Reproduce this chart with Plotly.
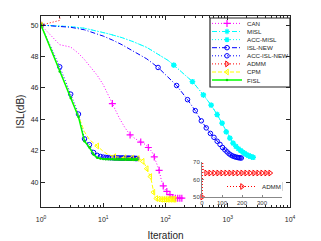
import plotly.graph_objects as go

# ---------------- data ----------------
can_iter = [1, 2, 3, 4, 5, 6, 8, 10, 14, 18, 22, 27, 33, 40, 47, 53, 60, 66, 72, 79,
            86, 92, 98, 105, 118, 131, 144, 157, 170, 183, 190]
can_isl = [50.0, 48.75, 48.6, 48.2, 47.8, 47.4, 46.8, 46.2, 45.0, 44.1, 43.5, 43.0, 42.75,
           42.55, 42.4, 42.2, 41.95, 41.6, 41.2, 40.75, 40.1, 39.75, 39.55, 39.4, 39.2,
           39.02, 38.97, 38.97, 38.97, 38.97, 38.97]

misl_iter = [1, 2, 3, 5, 8, 12, 20, 30, 50, 80, 110, 136, 271, 406, 541, 676, 811, 946,
             1081, 1216, 1351, 1486, 1621, 1756, 1891, 2026, 2161, 2296, 2431, 2566, 2700]
misl_isl = [50.0, 49.95, 49.9, 49.8, 49.62, 49.45, 49.2, 48.95, 48.58, 48.1, 47.75, 47.45,
            46.4, 45.55, 44.9, 44.3, 43.75, 43.2, 42.8, 42.48, 42.27, 42.12, 42.0, 41.9,
            41.81, 41.74, 41.68, 41.64, 41.6, 41.57, 41.55]

# ACC-MISL is hidden under MISL in the picture
acc_misl_iter = misl_iter
acc_misl_isl = misl_isl

isl_new_iter = [1, 2, 3, 5, 8, 10, 14, 20, 30, 50, 76, 110, 151, 226, 301, 376, 451, 526,
                601, 676, 751, 826, 901, 976, 1051, 1126, 1201, 1276, 1351, 1426, 1501,
                1576, 1651, 1700]
isl_new_isl = [50.0, 49.93, 49.86, 49.7, 49.45, 49.3, 49.05, 48.75, 48.35, 47.85, 47.3,
               46.7, 46.15, 45.25, 44.55, 43.9, 43.45, 43.1, 42.85, 42.6, 42.4, 42.2, 42.05,
               41.92, 41.8, 41.72, 41.66, 41.62, 41.59, 41.57, 41.55, 41.54, 41.53, 41.52]

acc_isl_new_iter = list(range(1, 36))
acc_isl_new_isl = [50.0, 47.34, 45.6, 44.33, 42.75, 42.38, 41.88, 41.7, 41.63, 41.59, 41.57,
                   41.56, 41.55, 41.55, 41.54, 41.54, 41.54, 41.53, 41.53, 41.53, 41.53,
                   41.52, 41.52, 41.52, 41.52, 41.52, 41.51, 41.51, 41.51, 41.51, 41.51,
                   41.51, 41.5, 41.5, 41.5]

admm_iter = [1, 2, 3, 4, 5, 6, 8, 10, 15, 21, 41, 61, 81, 101, 121, 141, 161, 181, 201,
             221, 241, 261, 281, 301, 321, 341]
admm_isl = [50.0, 50.3, 70.0, 68.0, 66.0, 65.0, 64.2, 63.9, 63.7, 63.7, 63.7, 63.7, 63.7,
            63.7, 63.7, 63.7, 63.7, 63.7, 63.7, 63.7, 63.7, 63.7, 63.7, 63.7, 63.7, 63.7]

cpm_iter = [1, 2, 3, 4, 5, 6, 8, 10, 12, 15, 22, 29, 36, 40, 43, 47, 50, 54, 57, 60, 62,
            64, 66, 68, 71, 78, 85, 92, 99, 106, 113, 120, 127, 134, 141]
cpm_isl = [50.0, 47.1, 45.5, 44.2, 43.2, 42.7, 42.3, 41.95, 41.75, 41.62, 41.55, 41.53,
           41.5, 41.45, 41.32, 41.1, 40.85, 40.55, 40.35, 40.0, 39.6, 39.35, 39.15, 39.02,
           38.95, 38.92, 38.9, 38.9, 38.9, 38.9, 38.9, 38.9, 38.9, 38.9, 38.9]

fisl_iter = list(range(1, 36))
fisl_isl = [50.0, 47.05, 45.35, 44.15, 42.6, 42.2, 41.75, 41.55, 41.5, 41.47, 41.46, 41.45,
            41.45, 41.45, 41.44, 41.44, 41.44, 41.44, 41.44, 41.44, 41.43, 41.43, 41.43,
            41.43, 41.43, 41.43, 41.43, 41.43, 41.43, 41.43, 41.43, 41.43, 41.43, 41.43,
            41.43]

x_tick_vals = [1, 10, 100, 1000, 10000]
x_tick_text = ["10<sup>0</sup>", "10<sup>1</sup>", "10<sup>2</sup>", "10<sup>3</sup>",
               "10<sup>4</sup>"]
y_tick_vals = [40, 42, 44, 46, 48, 50]
inset_x_ticks = [0, 100, 200, 300]
inset_y_ticks = [50, 60, 70]

# ---------------- styling ----------------
FONT = "Liberation Sans, Arial, sans-serif"
W, H = 321, 241
ML, MR, MT, MB = 41, 31, 16, 34
PW, PH = W - ML - MR, H - MT - MB


def px_x(p):
    return (p - ML) / PW


def px_y(p):
    return (H - MB - p) / PH


series = [
    ("CAN", can_iter, can_isl, 13, dict(color="#ff00ff", dash="1px,2px", width=1),
     dict(symbol="cross-thin-open", size=5, color="#ff00ff", line=dict(width=1.2))),
    ("MISL", misl_iter, misl_isl, 135, dict(color="#00ffff", dash="5px,2px,1px,2px", width=1),
     dict(symbol="asterisk-open", size=4.5, color="#00ffff", line=dict(width=1.2))),
    ("ACC-MISL", acc_misl_iter, acc_misl_isl, 135,
     dict(color="#00ffff", dash="1px,2px", width=1),
     dict(symbol="asterisk-open", size=4.5, color="#00ffff", line=dict(width=1.2))),
    ("ISL-NEW", isl_new_iter, isl_new_isl, 75,
     dict(color="#0000ff", dash="5px,2px,1px,2px", width=1),
     dict(symbol="circle-open", size=4.5, color="#0000ff", line=dict(width=1))),
    ("ACC-ISL-NEW", acc_isl_new_iter, acc_isl_new_isl, 1,
     dict(color="#0000ff", dash="1px,2px", width=1),
     dict(symbol="circle-open", size=4.5, color="#0000ff", line=dict(width=1))),
    ("ADMM", admm_iter, admm_isl, 20, dict(color="#ff0000", dash="1px,2px", width=1),
     dict(symbol="triangle-right-open", size=5, color="#ff0000", line=dict(width=1))),
    ("CPM", cpm_iter, cpm_isl, 7, dict(color="#ffff00", dash="4px,2px", width=1),
     dict(symbol="triangle-left-open", size=5, color="#ffff00", line=dict(width=1))),
    ("FISL", fisl_iter, fisl_isl, 1, dict(color="#00ff00", width=1.5),
     dict(symbol="circle", size=2.5, color="#00dd00")),
]

LEG_FONT = dict(family=FONT, size=6.2, color="#262626")


def legend_box(px_left, px_center_y):
    return dict(x=px_left / W, y=1 - px_center_y / H, xref="container", yref="container",
                xanchor="left", yanchor="middle", bgcolor="rgba(0,0,0,0)",
                borderwidth=0, itemwidth=30, font=LEG_FONT)


fig = go.Figure()
legend_layouts = {}
for k, (name, it, val, step, line, marker) in enumerate(series):
    fig.add_trace(go.Scatter(x=it, y=val, mode="lines", line=line, showlegend=False,
                             hoverinfo="skip"))
    mx = [x for x in it if (x - 1) % step == 0]
    my = [y for x, y in zip(it, val) if (x - 1) % step == 0]
    fig.add_trace(go.Scatter(x=mx, y=my, mode="markers", marker=marker, showlegend=False))
    lg = "legend" if k == 0 else f"legend{k + 1}"
    fig.add_trace(go.Scatter(x=[None], y=[None], mode="lines+markers", line=line,
                             marker=marker, name=name, legend=lg, showlegend=True))
    legend_layouts[lg] = legend_box(207, 23.4 + 8.1 * k)

# inset (ADMM)
name, it, val, step, line, marker = series[5]
fig.add_trace(go.Scatter(x=it, y=val, mode="lines", line=line, showlegend=False,
                         xaxis="x2", yaxis="y2", hoverinfo="skip"))
mx = [x for x in it if (x - 1) % step == 0]
my = [y for x, y in zip(it, val) if (x - 1) % step == 0]
fig.add_trace(go.Scatter(x=mx, y=my, mode="markers", marker=marker, showlegend=False,
                         xaxis="x2", yaxis="y2", cliponaxis=False))
fig.add_trace(go.Scatter(x=[None], y=[None], mode="lines+markers", line=line, marker=marker,
                         name=name, legend="legend9", showlegend=True, xaxis="x2", yaxis="y2"))
legend_layouts["legend9"] = legend_box(222, 186.5)

axis_common = dict(showline=True, linecolor="#262626", linewidth=1.3, mirror="ticks",
                   ticks="inside", tickcolor="#262626", showgrid=False, zeroline=False,
                   automargin=False,
                   tickfont=dict(family=FONT, size=7, color="#262626"))

minor_vals = [m * 10 ** d for d in range(4) for m in range(2, 10)]

inset_axis = dict(showline=True, linecolor="#888888", linewidth=1, ticks="inside",
                  ticklen=2, tickcolor="#888888", showgrid=False, zeroline=False,
                  automargin=False, tickfont=dict(family=FONT, size=6, color="#404040"))

fig.update_layout(
    width=W, height=H, autosize=False,
    margin=dict(l=ML, r=MR, t=MT, b=MB, autoexpand=False),
    paper_bgcolor="white", plot_bgcolor="white",
    font=dict(family=FONT, color="#262626"),
    xaxis=dict(type="log", range=[0, 4], tickvals=x_tick_vals, ticktext=x_tick_text,
               ticklen=4, ticklabelstandoff=5,
               minor=dict(tickvals=minor_vals, ticks="inside", ticklen=2,
                          tickcolor="#262626"),
               title=dict(text="Iteration", font=dict(family=FONT, size=10), standoff=10),
               **axis_common),
    yaxis=dict(range=[38.41, 50.58], tickvals=y_tick_vals, ticklen=4,
               title=dict(text="ISL(dB)", font=dict(family=FONT, size=10), standoff=4),
               **axis_common),
    xaxis2=dict(domain=[px_x(202), px_x(282)], anchor="y2", range=[0, 400],
                tickvals=inset_x_ticks, **inset_axis),
    yaxis2=dict(domain=[px_y(197), px_y(162)], anchor="x2", range=[50, 70],
                tickvals=inset_y_ticks, **inset_axis),
    shapes=[
        dict(type="rect", xref="paper", yref="paper", x0=px_x(210), x1=px_x(290),
             y0=px_y(87), y1=px_y(18), line=dict(color="#262626", width=1.2),
             fillcolor="white", layer="below"),
        dict(type="rect", xref="paper", yref="paper", x0=px_x(225), x1=px_x(282),
             y0=px_y(191), y1=px_y(182), line=dict(color="#999999", width=0.8),
             fillcolor="white", layer="below"),
    ],
    **legend_layouts,
)

fig.write_html("out.html", config={"displayModeBar": False},
               post_script="document.body.style.margin='0';")
